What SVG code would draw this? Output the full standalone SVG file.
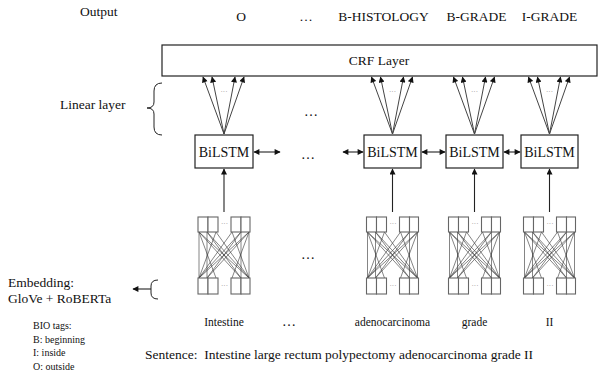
<svg xmlns="http://www.w3.org/2000/svg" width="605" height="379" viewBox="0 0 605 379" font-family="'Liberation Serif', serif">
<style>
text{font-family:'Liberation Serif',serif;fill:#111}
.lbl{font-size:13.5px}
.box{fill:#fff;stroke:#222;stroke-width:1.2}
.bl{font-size:14px;text-anchor:middle}
.word{font-size:11.5px;text-anchor:middle}
.bio{font-size:10px}
.tiny{font-size:7px;text-anchor:middle;fill:#777}
.sq rect{fill:#fff;stroke:#666;stroke-width:1.1}
.mesh path{stroke:#333;stroke-width:0.6;fill:none}
.fan line{stroke:#444;stroke-width:1}
.conn line{stroke:#222;stroke-width:1.1}
.brace{fill:none;stroke:#222;stroke-width:1}
.dots{font-size:14px;text-anchor:middle}
</style>
<defs>
<marker id="ah" viewBox="0 0 10 10" refX="9" refY="5" markerWidth="7" markerHeight="6" markerUnits="userSpaceOnUse" orient="auto-start-reverse">
<path d="M0,0 L10,5 L0,10 z" fill="#111"/>
</marker>
<g id="emb">
<g class="mesh">
<path d="M1,15 L1,61 M9,15 L9,61 M43,15 L43,61 M51,15 L51,61"/>
<path d="M1,15 L43,61 M1,15 L51,61 M9,15 L43,61 M9,15 L51,61 M18,15 L51,61"/>
<path d="M43,15 L1,61 M43,15 L9,61 M51,15 L1,61 M51,15 L9,61 M34,15 L1,61"/>
<path d="M1,15 L18,61 M18,15 L1,61 M34,15 L51,61 M51,15 L34,61"/>
</g>
<g class="sq">
<rect x="0" y="0" width="10" height="15"/><rect x="10" y="0" width="10" height="15"/>
<rect x="33" y="0" width="10" height="15"/><rect x="43" y="0" width="9" height="15"/>
<rect x="0" y="61" width="10" height="16"/><rect x="10" y="61" width="10" height="16"/>
<rect x="33" y="61" width="10" height="16"/><rect x="43" y="61" width="9" height="16"/>
</g>
<text class="tiny" x="26.5" y="9">···</text>
<text class="tiny" x="26.5" y="71">···</text>
</g>
<g id="fan" class="fan">
<line x1="0" y1="0" x2="-21" y2="-57" marker-end="url(#ah)"/>
<line x1="0" y1="0" x2="-12" y2="-57" marker-end="url(#ah)"/>
<line x1="0" y1="0" x2="11" y2="-57" marker-end="url(#ah)"/>
<line x1="0" y1="0" x2="20" y2="-57" marker-end="url(#ah)"/>
<text class="tiny" x="0" y="-40">···</text>
</g>
</defs>

<g id="labels">
<text class="lbl" x="80" y="16">Output</text>
<text class="lbl" x="241" y="21" text-anchor="middle">O</text>
<text class="lbl" x="306" y="21" text-anchor="middle">…</text>
<text class="lbl" x="383.5" y="21" text-anchor="middle">B-HISTOLOGY</text>
<text class="lbl" x="476.5" y="21" text-anchor="middle">B-GRADE</text>
<text class="lbl" x="549.5" y="21" text-anchor="middle">I-GRADE</text>
<text class="lbl" x="60" y="109">Linear layer</text>
<text class="lbl" x="8" y="287">Embedding:</text>
<text class="lbl" x="8" y="303">GloVe + RoBERTa</text>
<text class="bio" x="33" y="329">BIO tags:</text>
<text class="bio" x="33" y="343">B: beginning</text>
<text class="bio" x="33" y="356">I: inside</text>
<text class="bio" x="33" y="370">O: outside</text>
<text class="lbl" x="145" y="359" font-size="13" xml:space="preserve">Sentence:  Intestine large rectum polypectomy adenocarcinoma grade II</text>
<text class="dots" x="311" y="116">…</text>
<text class="dots" x="308" y="159">…</text>
<text class="dots" x="308" y="259">…</text>
<text class="dots" x="289" y="326">…</text>
</g>

<g id="crf">
<rect class="box" x="162" y="45" width="435" height="31"/>
<text class="lbl" x="379" y="65" text-anchor="middle">CRF Layer</text>
</g>

<g id="braces">
<path class="brace" d="M162,83 Q154,83 154,91 L154,102 Q154,108 147,108 Q154,108 154,114 L154,127 Q154,135 162,135"/>
<path class="brace" d="M158,280 Q151,280 151,286 L151,293 Q151,299 158,299"/>
</g>

<g id="col1">
<rect class="box" x="195" y="135" width="58" height="33"/>
<text class="bl" x="224" y="157">BiLSTM</text>
<use href="#emb" x="198" y="217"/>
<text class="word" x="224" y="326">Intestine</text>
</g>
<g id="col2">
<rect class="box" x="364" y="135" width="57" height="33"/>
<text class="bl" x="392.5" y="157">BiLSTM</text>
<use href="#emb" x="366.5" y="217"/>
<text class="word" x="392.5" y="326">adenocarcinoma</text>
</g>
<g id="col3">
<rect class="box" x="446" y="135" width="57" height="33"/>
<text class="bl" x="474.5" y="157">BiLSTM</text>
<use href="#emb" x="448.5" y="217"/>
<text class="word" x="474.5" y="326">grade</text>
</g>
<g id="col4">
<rect class="box" x="521" y="135" width="57" height="33"/>
<text class="bl" x="549.5" y="157">BiLSTM</text>
<use href="#emb" x="523.5" y="217"/>
<text class="word" x="549.5" y="326">II</text>
</g>

<g id="connectors" class="conn">
<use href="#fan" x="224" y="134"/>
<use href="#fan" x="392.5" y="134"/>
<use href="#fan" x="474.5" y="134"/>
<use href="#fan" x="549.5" y="134"/>
<line x1="224" y1="212" x2="224" y2="169" marker-end="url(#ah)"/>
<line x1="392.5" y1="212" x2="392.5" y2="169" marker-end="url(#ah)"/>
<line x1="474.5" y1="212" x2="474.5" y2="169" marker-end="url(#ah)"/>
<line x1="549.5" y1="212" x2="549.5" y2="169" marker-end="url(#ah)"/>
<line x1="254" y1="152" x2="280" y2="152" marker-start="url(#ah)" marker-end="url(#ah)"/>
<line x1="343" y1="152" x2="363" y2="152" marker-start="url(#ah)" marker-end="url(#ah)"/>
<line x1="422" y1="152" x2="445" y2="152" marker-start="url(#ah)" marker-end="url(#ah)"/>
<line x1="504" y1="152" x2="520" y2="152" marker-start="url(#ah)" marker-end="url(#ah)"/>
<line x1="151" y1="289" x2="133" y2="289" marker-end="url(#ah)"/>
</g>
</svg>
